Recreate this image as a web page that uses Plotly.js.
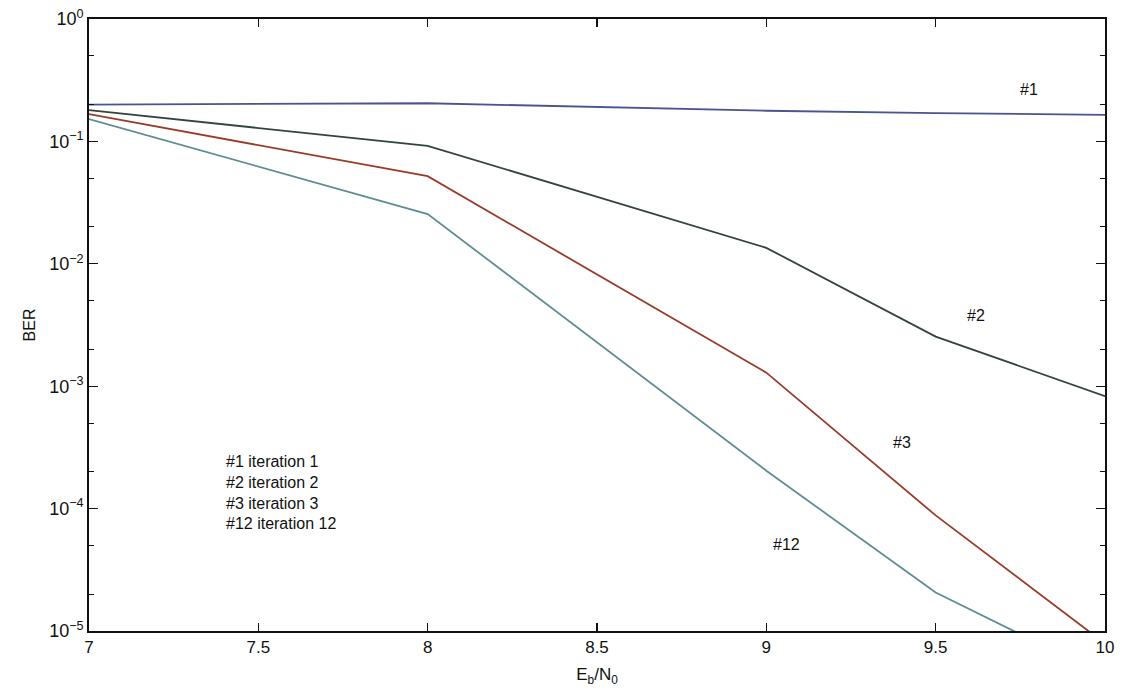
<!DOCTYPE html>
<html>
<head>
<meta charset="utf-8">
<script src="https://cdn.plot.ly/plotly-3.0.1.min.js"></script>
<style>html,body{margin:0;padding:0;background:#fff;}#chart{width:1122px;height:692px;}</style>
</head>
<body>
<div id="chart"></div>
<script>
const ebn0 = [7, 8, 9, 9.5, 10];
const iter1 = [0.20, 0.205, 0.178, 0.17, 0.165];
const iter2 = [0.18, 0.092, 0.0135, 0.00254, 0.00083];
const iter3 = [0.167, 0.052, 0.00129, 0.000088, 0.0000079];
const iter12 = [0.152, 0.0255, 0.000204, 0.0000206, 0.0000043];

const seriesNames = ['#1', '#2', '#3', '#12'];
const seriesColors = ['#4a5590', '#34443a', '#9a3b2a', '#5f8c94'];

const yTickVals = [1e-5, 1e-4, 1e-3, 1e-2, 1e-1, 1];
const yTickText = ['10<sup>−5</sup>', '10<sup>−4</sup>', '10<sup>−3</sup>', '10<sup>−2</sup>', '10<sup>−1</sup>', '10<sup>0</sup>'];
const xTickVals = [7, 7.5, 8, 8.5, 9, 9.5, 10];
const xTickText = ['7', '7.5', '8', '8.5', '9', '9.5', '10'];

const curveLabels = [
  {text: '#1', x: 9.776, y: -0.58},
  {text: '#2', x: 9.62, y: -2.42},
  {text: '#3', x: 9.40, y: -3.46},
  {text: '#12', x: 9.06, y: -4.29}
];
const legendText = '#1 iteration 1<br>#2 iteration 2<br>#3 iteration 3<br>#12 iteration 12';

const allSeries = [iter1, iter2, iter3, iter12];
const traces = allSeries.map((ys, i) => ({
  x: ebn0, y: ys, type: 'scatter', mode: 'lines', name: seriesNames[i],
  line: {color: seriesColors[i], width: 1.8}, cliponaxis: true
}));

const font = {family: 'Liberation Sans, Arial, sans-serif', color: '#111'};

const annotations = curveLabels.map(a => ({
  x: a.x, y: a.y, xref: 'x', yref: 'y', text: a.text, showarrow: false,
  font: Object.assign({}, font, {size: 16}), xanchor: 'center', yanchor: 'middle'
}));
annotations.push({
  x: 7.40, y: -3.87, xref: 'x', yref: 'y', text: legendText, showarrow: false,
  align: 'left', xanchor: 'left', yanchor: 'middle',
  font: Object.assign({}, font, {size: 16})
});

const layout = {
  width: 1122, height: 692,
  margin: {l: 89, r: 17, t: 19, b: 61},
  paper_bgcolor: '#fff', plot_bgcolor: '#fff',
  showlegend: false,
  font: Object.assign({}, font, {size: 16}),
  xaxis: {
    range: [7, 10], tickvals: xTickVals, ticktext: xTickText,
    ticks: 'inside', ticklen: 8, tickwidth: 1.3, tickcolor: '#111',
    showline: true, linecolor: '#111', linewidth: 1.8, mirror: 'allticks',
    showgrid: false, zeroline: false,
    tickfont: Object.assign({}, font, {size: 17}),
    title: {text: 'E<sub>b</sub>/N<sub>0</sub>', standoff: 12, font: Object.assign({}, font, {size: 17})}
  },
  yaxis: {
    type: 'log', range: [-5, 0], tickvals: yTickVals, ticktext: yTickText,
    ticks: 'inside', ticklen: 9, tickwidth: 1.3, tickcolor: '#111',
    minor: {ticks: 'inside', ticklen: 5, tickwidth: 1, tickcolor: '#111', showgrid: false},
    showline: true, linecolor: '#111', linewidth: 1.8, mirror: 'allticks',
    showgrid: false, zeroline: false,
    tickfont: Object.assign({}, font, {size: 18}),
    title: {text: 'BER', standoff: 10, font: Object.assign({}, font, {size: 16})}
  },
  annotations: annotations
};

Plotly.newPlot('chart', traces, layout, {displayModeBar: false, staticPlot: true});
</script>
</body>
</html>
